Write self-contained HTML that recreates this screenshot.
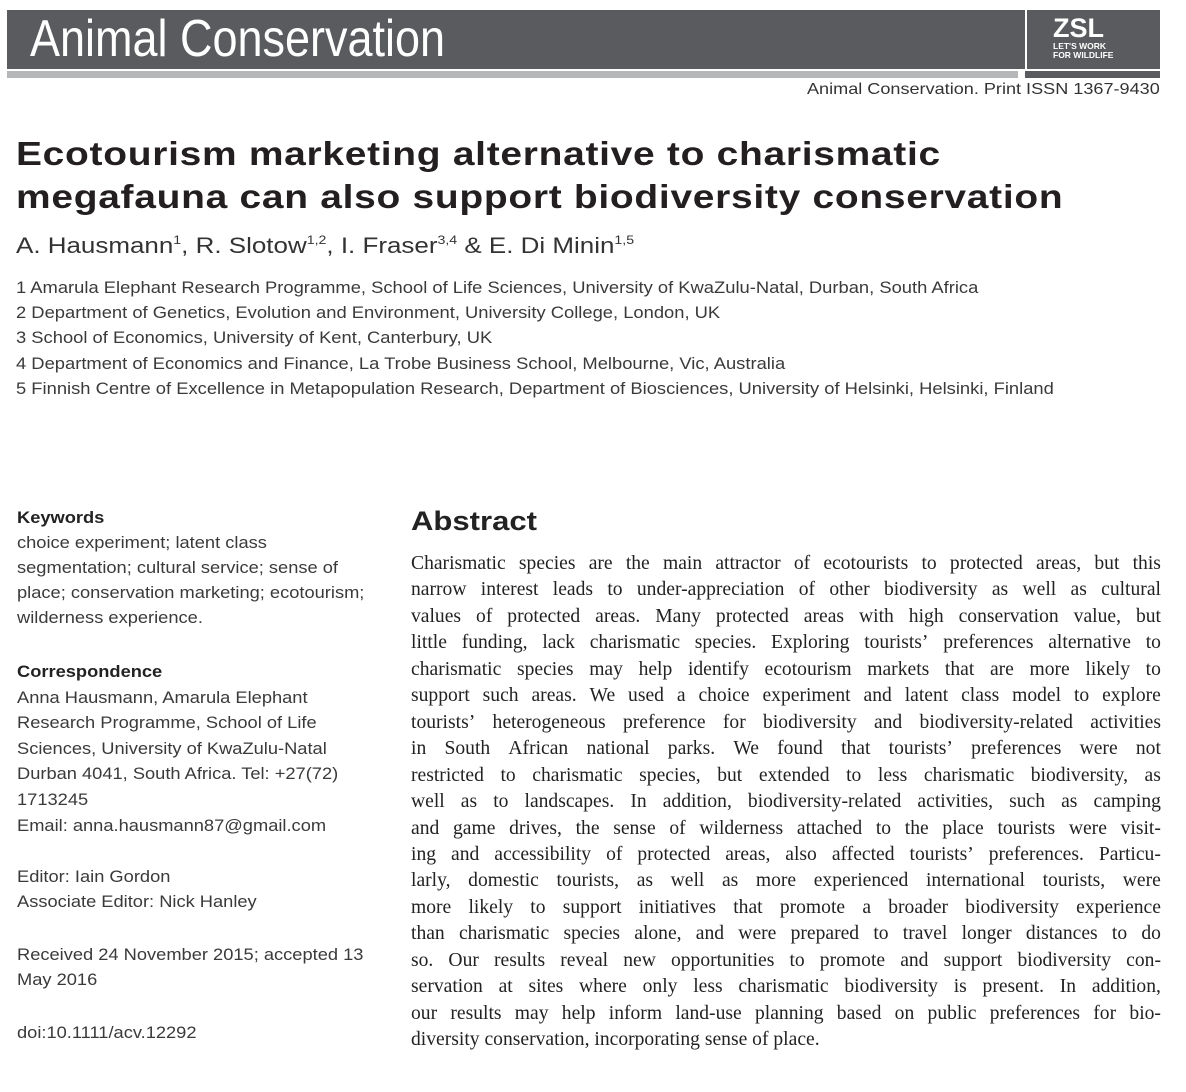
<!DOCTYPE html>
<html><head><meta charset="utf-8"><style>
body{margin:0;width:1186px;height:1092px;background:#fff;position:relative;overflow:hidden;font-family:"Liberation Sans",sans-serif;color:#231f20}
.a{position:absolute;white-space:nowrap}
.hdr{position:absolute;left:7px;top:10px;width:1153px;height:59px;background:#595b5e}
.sep{position:absolute;left:1025px;top:10px;width:2px;height:59px;background:#fff}
.l{position:absolute;font-size:17px;line-height:25px;color:#3a3a3a;white-space:nowrap;transform:scaleX(1.075);transform-origin:left top}
.ab{position:absolute;left:411px;top:551px;width:750px;font-family:"Liberation Serif",serif;font-size:19.6px;line-height:26.45px;color:#222}
.ab div{white-space:nowrap;display:flex;justify-content:space-between}
.ab div.last{display:block}
sup{font-size:12px;vertical-align:9px;line-height:0}
</style></head><body>
<div class="hdr"></div>
<div class="sep"></div>
<div class="a" style="left:30px;top:8px;font-size:52px;line-height:62px;color:#fff;transform:scaleX(0.865);transform-origin:left">Animal Conservation</div>
<div class="a" style="left:1053px;top:14px;font-size:27px;font-weight:bold;color:#fff;line-height:28px">ZSL</div>
<div class="a" style="left:1053px;top:42px;font-size:8.5px;font-weight:bold;color:#fff;line-height:9px">LET'S WORK<br>FOR WILDLIFE</div>
<div style="position:absolute;left:7px;top:71px;width:1011px;height:7px;background:#b6b7b9"></div>
<div style="position:absolute;left:1025px;top:71px;width:135px;height:7px;background:#595b5e"></div>
<div class="a" style="left:807px;top:80px;font-size:16px;line-height:20px;color:#333;transform:scaleX(1.13);transform-origin:left">Animal Conservation. Print ISSN 1367-9430</div>
<div class="a" style="left:16px;top:132px;font-size:33px;font-weight:bold;line-height:43px;letter-spacing:0.6px;transform:scaleX(1.18);transform-origin:left top">Ecotourism marketing alternative to charismatic<br>megafauna can also support biodiversity conservation</div>
<div class="a" style="left:16px;top:232px;font-size:22px;line-height:28px;color:#333;transform:scaleX(1.18);transform-origin:left top">A. Hausmann<sup>1</sup>, R. Slotow<sup>1,2</sup>, I. Fraser<sup>3,4</sup> &amp; E. Di Minin<sup>1,5</sup></div>
<div class="l" style="left:16px;top:275px;line-height:25.2px;transform:scaleX(1.08)">1 Amarula Elephant Research Programme, School of Life Sciences, University of KwaZulu-Natal, Durban, South Africa<br>2 Department of Genetics, Evolution and Environment, University College, London, UK<br>3 School of Economics, University of Kent, Canterbury, UK<br>4 Department of Economics and Finance, La Trobe Business School, Melbourne, Vic, Australia<br>5 Finnish Centre of Excellence in Metapopulation Research, Department of Biosciences, University of Helsinki, Helsinki, Finland</div>
<div class="l" style="left:17px;top:505px"><b style="color:#222">Keywords</b><br>choice experiment; latent class<br>segmentation; cultural service; sense of<br>place; conservation marketing; ecotourism;<br>wilderness experience.</div>
<div class="l" style="left:17px;top:659px;line-height:25.6px"><b style="color:#222">Correspondence</b><br>Anna Hausmann, Amarula Elephant<br>Research Programme, School of Life<br>Sciences, University of KwaZulu-Natal<br>Durban 4041, South Africa. Tel: +27(72)<br>1713245<br>Email: anna.hausmann87@gmail.com</div>
<div class="l" style="left:17px;top:864px">Editor: Iain Gordon<br>Associate Editor: Nick Hanley</div>
<div class="l" style="left:17px;top:942px">Received 24 November 2015; accepted 13<br>May 2016</div>
<div class="l" style="left:17px;top:1020px">doi:10.1111/acv.12292</div>
<div class="a" style="left:411px;top:504px;font-size:27px;font-weight:bold;line-height:34px;color:#222;transform:scaleX(1.15);transform-origin:left">Abstract</div>
<div class="ab">
<div>Charismatic species are the main attractor of ecotourists to protected areas, but this</div>
<div>narrow interest leads to under-appreciation of other biodiversity as well as cultural</div>
<div>values of protected areas. Many protected areas with high conservation value, but</div>
<div>little funding, lack charismatic species. Exploring tourists’ preferences alternative to</div>
<div>charismatic species may help identify ecotourism markets that are more likely to</div>
<div>support such areas. We used a choice experiment and latent class model to explore</div>
<div>tourists’ heterogeneous preference for biodiversity and biodiversity-related activities</div>
<div>in South African national parks. We found that tourists’ preferences were not</div>
<div>restricted to charismatic species, but extended to less charismatic biodiversity, as</div>
<div>well as to landscapes. In addition, biodiversity-related activities, such as camping</div>
<div>and game drives, the sense of wilderness attached to the place tourists were visit-</div>
<div>ing and accessibility of protected areas, also affected tourists’ preferences. Particu-</div>
<div>larly, domestic tourists, as well as more experienced international tourists, were</div>
<div>more likely to support initiatives that promote a broader biodiversity experience</div>
<div>than charismatic species alone, and were prepared to travel longer distances to do</div>
<div>so. Our results reveal new opportunities to promote and support biodiversity con-</div>
<div>servation at sites where only less charismatic biodiversity is present. In addition,</div>
<div>our results may help inform land-use planning based on public preferences for bio-</div>
<div class="last">diversity conservation, incorporating sense of place.</div>
</div>
<script>
document.querySelectorAll('.ab div:not(.last)').forEach(d=>{const w=d.textContent.split(' ');d.innerHTML=w.map(x=>'<span>'+x+'</span>').join('');});
</script>
</body></html>
